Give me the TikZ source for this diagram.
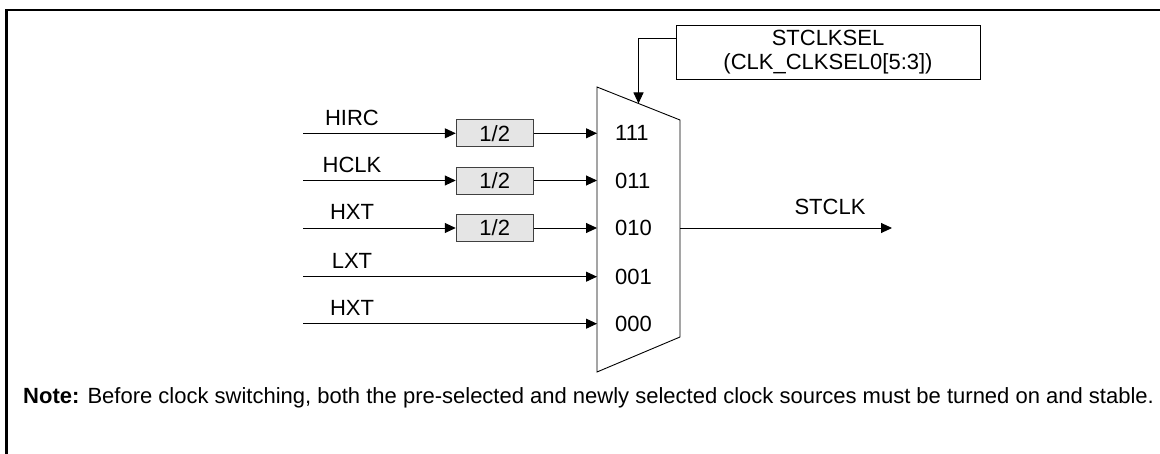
\documentclass[tikz,border=0pt]{standalone}
\usepackage{fontspec}
\setmainfont{Liberation Sans}
\usetikzlibrary{arrows.meta,calc}
\begin{document}
\begin{tikzpicture}[x=1pt,y=-1pt,
	>={Triangle[length=11pt,width=10pt]},
	font=\fontsize{22}{24}\selectfont,
	wire/.style={line width=0.9pt},
	divbox/.style={draw=black!75,fill=black!10,line width=0.9pt,minimum width=77pt,minimum height=27pt,inner sep=0pt},
	lbl/.style={anchor=base,inner sep=0pt},
	port/.style={anchor=west,inner sep=0pt}]
	\useasboundingbox (0,0) rectangle (1160,454);
	\draw[line width=2.7pt] (6.7,454) -- (6.7,10) -- (1160,10);
	% multiplexer
	\coordinate(MTL) at (597,87);
	\coordinate(MTR) at (680,120);
	\coordinate(MBR) at (680,337);
	\coordinate(MBL) at (597,372);
	\draw[wire] (MTL) -- (MTR) -- (MBR) -- (MBL) -- cycle;
	\coordinate(MTOP) at ($(MTL)!0.5!(MTR)$);
	\coordinate(P1) at (597,133.3);
	\coordinate(P2) at (597,180.5);
	\coordinate(P3) at (597,228);
	\coordinate(P4) at (597,276.7);
	\coordinate(P5) at (597,323.7);
	\node(S111)[port] at (615,133.3){111};
	\node(S011)[port] at (615,180.5){011};
	\node(S010)[port] at (615,228){010};
	\node(S001)[port] at (615,276.7){001};
	\node(S000)[port] at (615,323.7){000};
	% clock sources
	\coordinate(HIRCin) at (303,133.3);
	\coordinate(HCLKin) at (303,180.5);
	\coordinate(HXTin) at (303,228);
	\coordinate(LXTin) at (303,276.7);
	\coordinate(HXTbin) at (303,323.7);
	\node(HIRC)[lbl] at (352,125.3){HIRC};
	\node(HCLK)[lbl] at (352,172.5){HCLK};
	\node(HXT)[lbl] at (352,220){HXT};
	\node(LXT)[lbl] at (352,268.7){LXT};
	\node(HXTb)[lbl] at (352,315.7){HXT};
	\node(D1)[divbox] at (494.7,133.3){1/2};
	\node(D2)[divbox] at (494.7,180.5){1/2};
	\node(D3)[divbox] at (494.7,228){1/2};
	\draw[wire,->] (HIRCin) -- (D1);
	\draw[wire,->] (D1) -- (P1);
	\draw[wire,->] (HCLKin) -- (D2);
	\draw[wire,->] (D2) -- (P2);
	\draw[wire,->] (HXTin) -- (D3);
	\draw[wire,->] (D3) -- (P3);
	\draw[wire,->] (LXTin) -- (P4);
	\draw[wire,->] (HXTbin) -- (P5);
	% select and output
	\node(SEL)[draw,wire,minimum width=304pt,minimum height=54pt,align=center] at (828,52){STCLKSEL\\(CLK\_CLKSEL0[5:3])};
	\coordinate(SELport) at (676,38);
	\draw[wire,->] (SELport) -| (MTOP);
	\coordinate(OUT) at (680,228);
	\coordinate(OUTend) at (892,228);
	\draw[wire,->] (OUT) -- (OUTend);
	\node(STCLK)[lbl] at (830,215){STCLK};
	\node(NOTE)[anchor=base west,inner sep=0pt] at (23,403){\textbf{Note:} Before clock switching, both the pre-selected and newly selected clock sources must be turned on and stable.};
\end{tikzpicture}
\end{document}
